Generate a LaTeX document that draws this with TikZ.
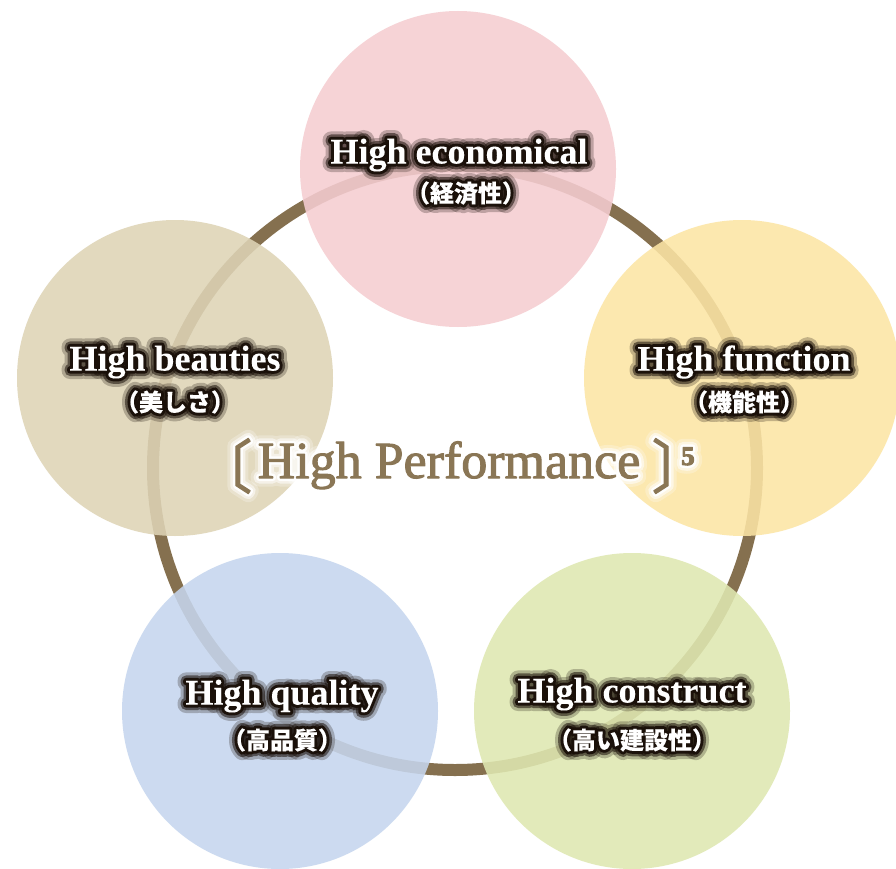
\documentclass[tikz,border=0pt]{standalone}
\usepackage{fontspec}
\setmainfont{Liberation Serif}
\newfontfamily\jpfont{Noto Sans CJK JP}
\newfontfamily\jpbracket[RawFeature=+halt]{Noto Sans CJK JP}
\definecolor{ringbrown}{HTML}{85704F}
\definecolor{perfbrown}{HTML}{8A7655}
\definecolor{econpink}{HTML}{F5CDD1}
\definecolor{funcyellow}{HTML}{FCE5A5}
\definecolor{beautybeige}{HTML}{DED4B6}
\definecolor{qualblue}{HTML}{C6D6EE}
\definecolor{constgreen}{HTML}{DFE8B1}
\tikzset{
	bubble/.style={circle, draw=none, minimum size=316pt, inner sep=0pt, fill opacity=0.88},
	title/.style={font=\bfseries\fontsize{36}{36}\selectfont, text=white},
	subtitle/.style={font=\jpfont\bfseries\fontsize{24}{24}\selectfont, text=white},
	perf/.style={font=\fontsize{52}{52}\selectfont, text=perfbrown, anchor=base},
	bracket/.style={font=\jpbracket\fontsize{58}{58}\selectfont, text=perfbrown, inner sep=0pt},
	power/.style={font=\bfseries\fontsize{27}{27}\selectfont, text=perfbrown, anchor=base west, inner sep=0pt},
}
% outlined glyphs: render mode, width, rgb stroke colour
\newcommand{\strokeon}[3]{\special{pdf:literal direct #1 Tr #2 w 1 j 1 J #3 RG}}
\newcommand{\strokeoff}{\special{pdf:literal direct 0 Tr}}
% stroke of the top layer (width and colour)
\newcommand{\topw}{0}
\newcommand{\toprgb}{1 1 1}
% text with a halo: rgb, name, position, style, text
\newcommand{\halolabel}[5][0.1 0.06 0.03]{%
	\foreach \w/\o in {17/0.25,11/0.55,6/0.95}
		\node[#4, opacity=\o] at (#3) {\strokeon{1}{\w}{#1}#5\strokeoff};
	\node[#4] (#2) at (#3) {\strokeon{2}{\topw}{\toprgb}#5\strokeoff};}
\begin{document}
\begin{tikzpicture}[x=1pt, y=-1pt]
	\useasboundingbox (0,0) rectangle (896,869);
	\clip (0,0) rectangle (896,869);
	\fill[white] (0,0) rectangle (896,869);

	% ring behind the bubbles
	\draw[ringbrown, line width=12pt] (455,468) circle[radius=302];

	\node[bubble, fill=econpink] 	(econ) 		at (458,169) {};
	\node[bubble, fill=funcyellow] 	(func) 		at (742,378) {};
	\node[bubble, fill=beautybeige] (beauty) 	at (175,378) {};
	\node[bubble, fill=qualblue] 	(qual) 		at (280,711) {};
	\node[bubble, fill=constgreen] 	(const) 	at (632,711) {};

	\halolabel{econT}{459,155}{title}{High economical}
	\halolabel{econJ}{466,193}{subtitle}{（経済性）}
	\halolabel{beautyT}{175,362}{title}{High beauties}
	\halolabel{beautyJ}{175,402}{subtitle}{（美しさ）}
	\halolabel{funcT}{744,362}{title}{High function}
	\halolabel{funcJ}{744,402}{subtitle}{（機能性）}
	\halolabel{qualT}{282,696}{title}{High quality}
	\halolabel{qualJ}{282,740}{subtitle}{（高品質）}
	\halolabel{constT}{632,694}{title}{High construct}
	\halolabel{constJ}{632,740}{subtitle}{（高い建設性）}

	% centre label with a white halo
	\renewcommand{\topw}{1}
	\renewcommand{\toprgb}{0.541 0.463 0.333}
	\halolabel[1 1 1]{perfT}{449,478}{perf}{High Performance}
	\halolabel[1 1 1]{perfL}{238,466}{bracket}{〔}
	\halolabel[1 1 1]{perfR}{666,466}{bracket}{〕}
	\halolabel[1 1 1]{perfS}{681,465}{power}{5}
\end{tikzpicture}
\end{document}
